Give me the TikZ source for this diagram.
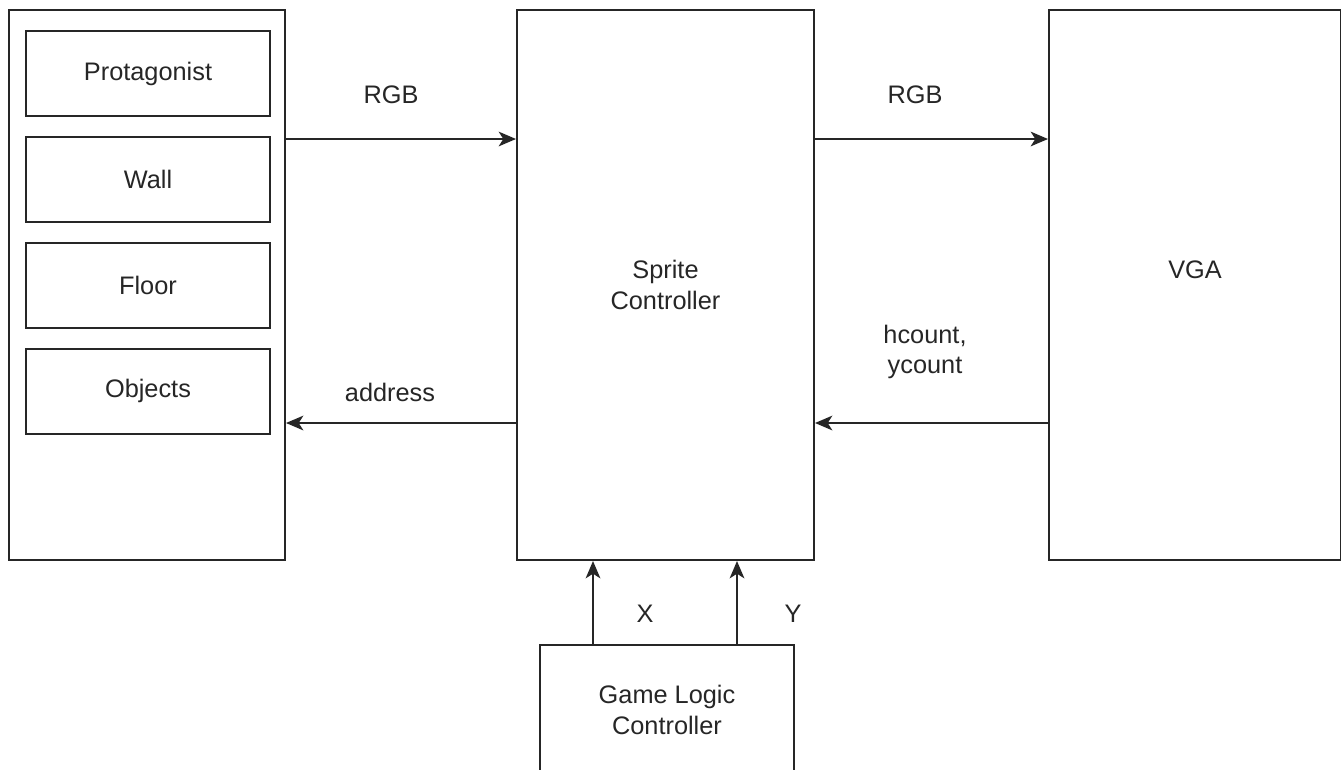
\documentclass[tikz,border=0pt]{standalone}
\usepackage{fontspec}
\setmainfont{Liberation Sans}
\usetikzlibrary{arrows.meta}

\begin{document}
\begin{tikzpicture}[x=0.75pt,y=-0.75pt,>={Stealth[length=13pt,width=11pt,inset=3.5pt]}]
            \tikzset{
                blk/.style={draw=black!85,line width=1.5pt,inner sep=0pt,align=center,
                    font=\fontsize{19}{23}\selectfont,text=black!85},
                lbl/.style={inner sep=1pt,align=center,font=\fontsize{19}{23}\selectfont,text=black!85},
                wire/.style={line width=1.5pt,draw=black!85}
            }
            \clip (0,0) rectangle (1341,769);
            % memory block with its sprites
            \node[blk,minimum width=207pt,minimum height=412.5pt] (rom) at (147,285) {};
            \foreach \y/\name/\txt in {73.5/prot/Protagonist,179/wall/Wall,285/floor/Floor,391/obj/Objects}{
                \node[blk,minimum width=183pt,minimum height=63.75pt] (\name) at (148,\y) {\txt};
            }
            \node[blk,minimum width=222.75pt,minimum height=412.5pt] (sprite) at (665.5,285) {Sprite\\Controller};
            \node[blk,minimum width=219pt,minimum height=412.5pt] (vga) at (1195,285) {};
            \node[lbl] (vgatxt) at (1195,270) {VGA};
            \node[blk,minimum width=190.5pt,minimum height=97.5pt] (game) at (667,710) {Game Logic\\Controller};
            % signals
            \node[lbl] (rgbin) at (391,95) {RGB};
            \node[lbl] (rgbout) at (915,95) {RGB};
            \node[lbl] (addr) at (390,392) {address};
            \node[lbl] (cnt) at (925,352) {hcount,\\ycount};
            \node[lbl] (xlab) at (645,614) {X};
            \node[lbl] (ylab) at (793,614) {Y};
            \draw[wire,->] (rom.east |- 0,139) -- (sprite.west |- 0,139);
            \draw[wire,->] (sprite.east |- 0,139) -- (vga.west |- 0,139);
            \draw[wire,->] (sprite.west |- 0,423) -- (rom.east |- 0,423);
            \draw[wire,->] (vga.west |- 0,423) -- (sprite.east |- 0,423);
            \draw[wire,->] (game.north -| 593,0) -- (sprite.south -| 593,0);
            \draw[wire,->] (game.north -| 737,0) -- (sprite.south -| 737,0);
        \end{tikzpicture}
\end{document}
